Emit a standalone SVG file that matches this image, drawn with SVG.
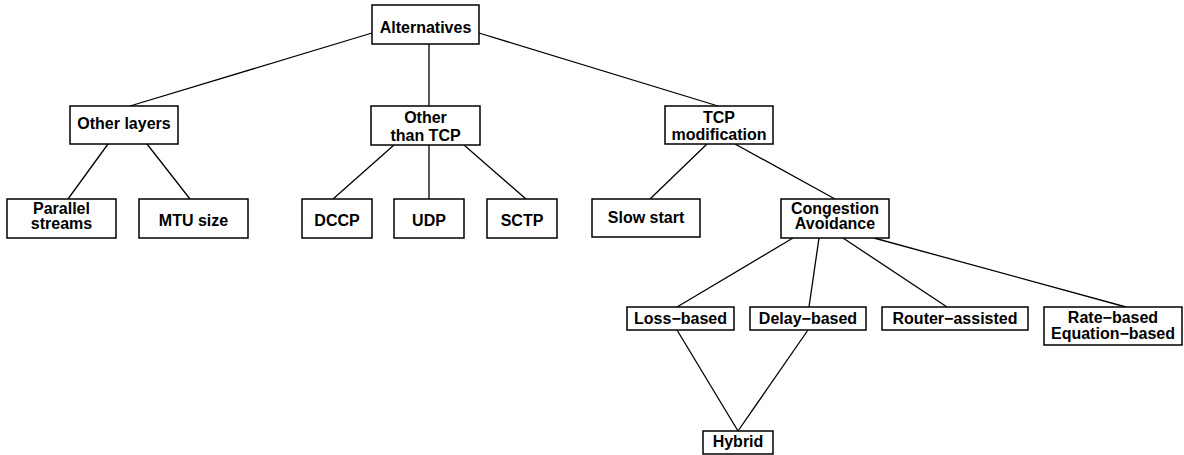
<svg xmlns="http://www.w3.org/2000/svg" width="1184" height="455" viewBox="0 0 1184 455">
<style>
.box{fill:#fff;stroke:#000;stroke-width:1.5}
.lbl{font-family:"Liberation Sans",Arial,sans-serif;font-weight:bold;font-size:16px;text-anchor:middle;fill:#000}
.edge{stroke:#000;stroke-width:1.3;fill:none}
</style>
<rect width="1184" height="455" fill="#fff"/>
<g id="connectors">
<line class="edge" x1="372" y1="33" x2="130" y2="106"/>
<line class="edge" x1="429" y1="44" x2="429" y2="106"/>
<line class="edge" x1="479" y1="33" x2="718" y2="106"/>
<line class="edge" x1="108" y1="144" x2="68" y2="199"/>
<line class="edge" x1="147" y1="144" x2="190" y2="199"/>
<line class="edge" x1="394" y1="145" x2="333" y2="199"/>
<line class="edge" x1="429" y1="145" x2="429" y2="199"/>
<line class="edge" x1="464" y1="145" x2="526" y2="199"/>
<line class="edge" x1="707" y1="144" x2="650" y2="199"/>
<line class="edge" x1="735" y1="144" x2="835" y2="199"/>
<line class="edge" x1="793" y1="238" x2="677" y2="307"/>
<line class="edge" x1="819" y1="238" x2="809" y2="307"/>
<line class="edge" x1="843" y1="238" x2="947" y2="307"/>
<line class="edge" x1="874" y1="238" x2="1126" y2="307"/>
<line class="edge" x1="677" y1="330" x2="738" y2="431"/>
<line class="edge" x1="808" y1="330" x2="738" y2="431"/>
</g>
<g id="alternatives"><rect class="box" x="372" y="5" width="107" height="39"/><text class="lbl" x="425.5" y="33">Alternatives</text></g>
<g id="other-layers"><rect class="box" x="70" y="106" width="108" height="38"/><text class="lbl" x="124" y="129">Other layers</text></g>
<g id="other-than-tcp"><rect class="box" x="371" y="106" width="109" height="39"/><text class="lbl" x="425.5" y="122.5">Other</text><text class="lbl" x="425.5" y="140.5">than TCP</text></g>
<g id="tcp-modification"><rect class="box" x="665" y="106" width="108" height="38"/><text class="lbl" x="719" y="122.5">TCP</text><text class="lbl" x="719" y="139.5">modification</text></g>
<g id="parallel-streams"><rect class="box" x="7" y="199" width="109" height="39"/><text class="lbl" x="61.5" y="214">Parallel</text><text class="lbl" x="61.5" y="229">streams</text></g>
<g id="mtu-size"><rect class="box" x="139" y="199" width="109" height="39"/><text class="lbl" x="193.5" y="226">MTU size</text></g>
<g id="dccp"><rect class="box" x="302" y="199" width="70" height="39"/><text class="lbl" x="337" y="226">DCCP</text></g>
<g id="udp"><rect class="box" x="394" y="199" width="70" height="39"/><text class="lbl" x="429" y="226">UDP</text></g>
<g id="sctp"><rect class="box" x="487" y="199" width="70" height="39"/><text class="lbl" x="522" y="226">SCTP</text></g>
<g id="slow-start"><rect class="box" x="592" y="199" width="108" height="38"/><text class="lbl" x="646" y="223">Slow start</text></g>
<g id="congestion-avoidance"><rect class="box" x="781" y="199" width="108" height="39"/><text class="lbl" x="835" y="214">Congestion</text><text class="lbl" x="835" y="229">Avoidance</text></g>
<g id="loss-based"><rect class="box" x="627" y="307" width="107" height="23"/><text class="lbl" x="680.5" y="323.5">Loss−based</text></g>
<g id="delay-based"><rect class="box" x="750" y="307" width="116" height="23"/><text class="lbl" x="808" y="323.5">Delay−based</text></g>
<g id="router-assisted"><rect class="box" x="882" y="307" width="146" height="23"/><text class="lbl" x="955" y="323.5">Router−assisted</text></g>
<g id="rate-based"><rect class="box" x="1044" y="307" width="138" height="38"/><text class="lbl" x="1113" y="323">Rate−based</text><text class="lbl" x="1113" y="339">Equation−based</text></g>
<g id="hybrid"><rect class="box" x="703" y="431" width="70" height="23"/><text class="lbl" x="738" y="447">Hybrid</text></g>
</svg>
